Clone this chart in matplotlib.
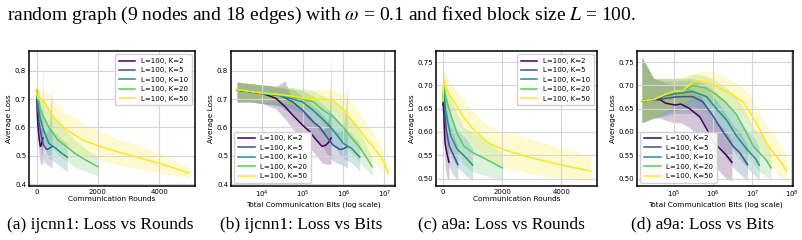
import numpy as np
import matplotlib
matplotlib.use("Agg")
import matplotlib.pyplot as plt

# Legend labels (L=100 fixed, K varies)
labels = ["L=100, K=2", "L=100, K=5", "L=100, K=10", "L=100, K=20", "L=100, K=50"]

# bits sent per communication round
ijcnn1_bits_per_round = 2500
a9a_bits_per_round = 15000

# ---- ijcnn1 ----
ijcnn1_rounds = [
    [1, 2, 4, 6, 9, 15, 23, 40, 60, 87, 120, 150, 180, 200],
    [1, 2, 4, 7, 11, 23, 40, 73, 107, 155, 225, 330, 400, 500],
    [1, 2, 4, 8, 13, 23, 40, 73, 130, 225, 400, 630, 800, 1000],
    [1, 2, 4, 8, 13, 25, 40, 73, 130, 225, 400, 700, 1000, 1250, 1600, 2000],
    [1, 2, 4, 8, 14, 25, 40, 80, 155, 225, 400, 600, 833, 1000, 1500, 2000, 2600, 3000, 4000, 5000],
]
ijcnn1_loss = [
    [0.732, 0.727, 0.720, 0.712, 0.702, 0.673, 0.643, 0.608, 0.585, 0.555, 0.533, 0.538, 0.550, 0.563],
    [0.732, 0.727, 0.720, 0.716, 0.714, 0.690, 0.661, 0.620, 0.600, 0.567, 0.537, 0.522, 0.525, 0.532],
    [0.732, 0.727, 0.720, 0.716, 0.710, 0.700, 0.690, 0.660, 0.626, 0.590, 0.543, 0.526, 0.510, 0.495],
    [0.732, 0.727, 0.720, 0.716, 0.714, 0.706, 0.700, 0.690, 0.660, 0.638, 0.600, 0.555, 0.530, 0.508, 0.485, 0.461],
    [0.734, 0.728, 0.722, 0.718, 0.714, 0.710, 0.703, 0.701, 0.699, 0.694, 0.663, 0.630, 0.606, 0.590, 0.556,
     0.535, 0.515, 0.503, 0.473, 0.438],
]
ijcnn1_low = [
    [0.69, 0.69, 0.685, 0.675, 0.665, 0.63, 0.595, 0.555, 0.53, 0.50, 0.475, 0.47, 0.47, 0.47],
    [0.69, 0.69, 0.685, 0.68, 0.675, 0.645, 0.61, 0.565, 0.545, 0.51, 0.48, 0.47, 0.465, 0.455],
    [0.69, 0.69, 0.685, 0.68, 0.675, 0.665, 0.65, 0.61, 0.575, 0.535, 0.49, 0.475, 0.46, 0.445],
    [0.69, 0.69, 0.685, 0.685, 0.68, 0.675, 0.665, 0.65, 0.61, 0.585, 0.545, 0.50, 0.48, 0.46, 0.445, 0.43],
    [0.69, 0.69, 0.69, 0.69, 0.685, 0.68, 0.675, 0.67, 0.665, 0.655, 0.61, 0.57, 0.545, 0.53, 0.50,
     0.485, 0.47, 0.46, 0.44, 0.42],
]
ijcnn1_high = [
    [0.76, 0.755, 0.75, 0.75, 0.745, 0.765, 0.69, 0.66, 0.64, 0.61, 0.59, 0.60, 0.65, 0.85],
    [0.76, 0.755, 0.75, 0.745, 0.74, 0.735, 0.71, 0.675, 0.655, 0.625, 0.595, 0.58, 0.60, 0.74],
    [0.76, 0.755, 0.75, 0.745, 0.74, 0.735, 0.73, 0.71, 0.68, 0.645, 0.60, 0.58, 0.56, 0.545],
    [0.76, 0.755, 0.75, 0.745, 0.745, 0.74, 0.735, 0.73, 0.71, 0.69, 0.66, 0.62, 0.585, 0.555, 0.525, 0.495],
    [0.76, 0.755, 0.75, 0.745, 0.74, 0.74, 0.735, 0.735, 0.735, 0.73, 0.72, 0.69, 0.665, 0.65, 0.615,
     0.59, 0.56, 0.55, 0.51, 0.455],
]

# ---- a9a ----
a9a_rounds = [
    [1, 2, 3, 4, 7, 10, 16, 30, 47, 67, 97, 145, 200],
    [1, 2, 4, 7, 11, 20, 36, 64, 115, 212, 320, 500],
    [1, 2, 4, 7, 11, 20, 45, 80, 145, 260, 470, 800, 1000],
    [1, 2, 4, 7, 11, 20, 45, 80, 145, 260, 470, 700, 1000, 1500, 2000],
    [1, 2, 4, 7, 11, 20, 31, 54, 97, 212, 380, 500, 680, 1000, 1500, 2000, 3000, 4000, 5000],
]
a9a_loss = [
    [0.667, 0.670, 0.669, 0.662, 0.658, 0.660, 0.651, 0.633, 0.604, 0.578, 0.565, 0.550, 0.535],
    [0.667, 0.670, 0.672, 0.675, 0.676, 0.676, 0.665, 0.636, 0.602, 0.570, 0.555, 0.530],
    [0.667, 0.670, 0.678, 0.682, 0.684, 0.687, 0.676, 0.650, 0.626, 0.592, 0.564, 0.543, 0.529],
    [0.667, 0.670, 0.681, 0.686, 0.688, 0.700, 0.694, 0.680, 0.662, 0.638, 0.598, 0.570, 0.556, 0.540, 0.523],
    [0.667, 0.670, 0.681, 0.688, 0.688, 0.708, 0.710, 0.705, 0.694, 0.680, 0.665, 0.651, 0.633, 0.607,
     0.578, 0.563, 0.544, 0.529, 0.516],
]
a9a_low = [
    [0.62, 0.63, 0.63, 0.625, 0.62, 0.62, 0.61, 0.59, 0.56, 0.53, 0.515, 0.50, 0.495],
    [0.62, 0.63, 0.635, 0.64, 0.64, 0.64, 0.625, 0.59, 0.555, 0.525, 0.51, 0.495],
    [0.62, 0.63, 0.64, 0.645, 0.65, 0.655, 0.645, 0.615, 0.59, 0.55, 0.525, 0.505, 0.495],
    [0.62, 0.63, 0.645, 0.655, 0.66, 0.67, 0.665, 0.645, 0.625, 0.60, 0.555, 0.53, 0.515, 0.505, 0.495],
    [0.62, 0.63, 0.645, 0.655, 0.66, 0.675, 0.68, 0.675, 0.665, 0.65, 0.635, 0.62, 0.60, 0.575,
     0.545, 0.525, 0.51, 0.50, 0.495],
]
a9a_high = [
    [0.76, 0.715, 0.71, 0.705, 0.70, 0.70, 0.695, 0.68, 0.65, 0.625, 0.615, 0.60, 0.58],
    [0.76, 0.715, 0.71, 0.71, 0.71, 0.71, 0.705, 0.68, 0.65, 0.615, 0.60, 0.57],
    [0.76, 0.715, 0.715, 0.715, 0.715, 0.715, 0.705, 0.685, 0.665, 0.635, 0.605, 0.585, 0.565],
    [0.76, 0.715, 0.715, 0.715, 0.715, 0.725, 0.72, 0.71, 0.695, 0.675, 0.64, 0.61, 0.60, 0.58, 0.555],
    [0.76, 0.715, 0.715, 0.715, 0.72, 0.725, 0.73, 0.73, 0.725, 0.71, 0.695, 0.685, 0.67, 0.645,
     0.615, 0.60, 0.585, 0.565, 0.55],
]

captions = ["(a) ijcnn1: Loss vs Rounds", "(b) ijcnn1: Loss vs Bits",
            "(c) a9a: Loss vs Rounds", "(d) a9a: Loss vs Bits"]
caption_x = [100, 301, 501, 703]  # centre of each caption in pixels

colors = plt.cm.viridis(np.linspace(0, 1, 5))

W, H = 803, 240
fig = plt.figure(figsize=(W / 100, H / 100), dpi=100)

# axes boxes in figure fraction
boxes = [[29 / W, 0.225, 166 / W, 0.5625],
         [231 / W, 0.225, 164 / W, 0.5625],
         [436 / W, 0.225, 161 / W, 0.5625],
         [637 / W, 0.225, 156 / W, 0.5625]]

panels = [
    (ijcnn1_rounds, ijcnn1_loss, ijcnn1_low, ijcnn1_high, 1, False, "upper right", (-250, 5170), (0.393, 0.87)),
    (ijcnn1_rounds, ijcnn1_loss, ijcnn1_low, ijcnn1_high, ijcnn1_bits_per_round, True, "lower left",
     (10 ** 3.25, 10 ** 7.26), (0.393, 0.87)),
    (a9a_rounds, a9a_loss, a9a_low, a9a_high, 1, False, "upper right", (-237, 5200), (0.484, 0.774)),
    (a9a_rounds, a9a_loss, a9a_low, a9a_high, a9a_bits_per_round, True, "lower left",
     (10 ** 4.05, 10 ** 8.04), (0.484, 0.774)),
]

for box, (rounds, loss, low, high, scale, logx, loc, xlim, ylim), cap, cx in zip(boxes, panels, captions, caption_x):
    ax = fig.add_axes(box)
    for i in range(5):
        x = np.array(rounds[i]) * scale
        ax.fill_between(x, low[i], high[i], color=colors[i], alpha=0.22, linewidth=0)
        ax.plot(x, loss[i], color=colors[i], lw=1.1, label=labels[i])
    if logx:
        ax.set_xscale("log")
        ax.set_xlabel("Total Communication Bits (log scale)", fontsize=5.3, labelpad=1)
    else:
        ax.set_xticks([0, 2000, 4000])
        ax.set_xlabel("Communication Rounds", fontsize=5.3, labelpad=1)
    ax.set_xlim(xlim)
    ax.set_ylim(ylim)
    if ylim[0] > 0.45:
        ax.set_yticks([0.50, 0.55, 0.60, 0.65, 0.70, 0.75])
        ax.set_yticklabels(["0.50", "0.55", "0.60", "0.65", "0.70", "0.75"])
    else:
        ax.set_yticks([0.4, 0.5, 0.6, 0.7, 0.8])
    ax.set_ylabel("Average Loss", fontsize=5.3, labelpad=2)
    ax.tick_params(labelsize=5, length=0, pad=2)
    ax.grid(True, color="#d5d5d5", lw=0.8)
    ax.minorticks_off()
    for s in ax.spines.values():
        s.set_color("black")
        s.set_linewidth(1.1)
    ax.legend(loc=loc, fontsize=5, frameon=True, framealpha=0.9, edgecolor="#cccccc",
              handlelength=2.4, borderpad=0.5, labelspacing=0.5)
    fig.text(cx / W, 0.047, cap, ha="center", va="baseline",
             family="Liberation Serif", fontsize=12.5)

fig.text(7 / W, 0.917, r"random graph (9 nodes and 18 edges) with $\omega$ = 0.1 and fixed block size $L$ = 100.",
         ha="left", va="baseline", family="Liberation Serif", fontsize=14, math_fontfamily="stix")

fig.savefig("out.png", dpi=100)
